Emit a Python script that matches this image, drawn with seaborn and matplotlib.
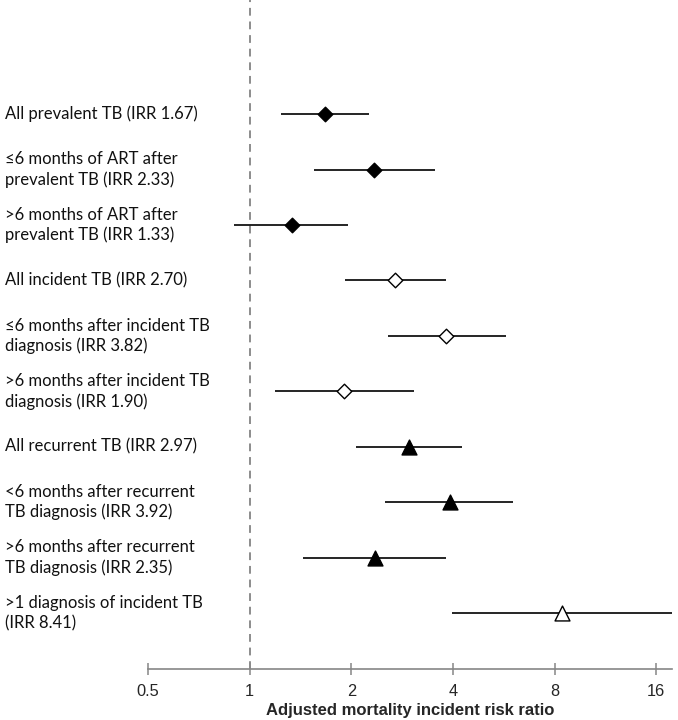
import matplotlib
matplotlib.use("Agg")
import matplotlib.pyplot as plt
import matplotlib.transforms as mtransforms
import seaborn as sns
import pandas as pd

labels = [
    "All prevalent TB (IRR 1.67)",
    "\u22646 months of ART after\nprevalent TB (IRR 2.33)",
    ">6 months of ART after\nprevalent TB (IRR 1.33)",
    "All incident TB (IRR 2.70)",
    "\u22646 months after incident TB\ndiagnosis (IRR 3.82)",
    ">6 months after incident TB\ndiagnosis (IRR 1.90)",
    "All recurrent TB (IRR 2.97)",
    "<6 months after recurrent\nTB diagnosis (IRR 3.92)",
    ">6 months after recurrent\nTB diagnosis (IRR 2.35)",
    ">1 diagnosis of incident TB\n(IRR 8.41)",
]
irr = [1.67, 2.33, 1.33, 2.70, 3.82, 1.90, 2.97, 3.92, 2.35, 8.41]
ci_low = [1.24, 1.55, 0.90, 1.92, 2.57, 1.19, 2.06, 2.51, 1.44, 3.96]
ci_high = [2.25, 3.54, 1.95, 3.82, 5.74, 3.06, 4.24, 6.03, 3.81, 17.8]
group = ["prevalent"] * 3 + ["incident"] * 3 + ["recurrent"] * 3 + ["multiple"]
xticks = [0.5, 1, 2, 4, 8, 16]

df = pd.DataFrame({"label": labels, "irr": irr, "lo": ci_low, "hi": ci_high, "group": group})
df["pos"] = list(range(len(df), 0, -1))

# marker, face colour, size per group
styles = {
    "prevalent": ("D", "black", 55),
    "incident": ("D", "white", 55),
    "recurrent": ("^", "black", 115),
    "multiple": ("^", "white", 115),
}

sns.set_theme(style="white")
fig = plt.figure(figsize=(6.78, 7.2), dpi=100)
ax = fig.add_axes([148 / 678, 51 / 720, (672 - 148) / 678, 669 / 720])

ax.set_xscale("log", base=2)
ax.set_xlim(0.5, 17.8)
ax.set_ylim(-0.01, 12.06)

ax.axvline(1, color="#8c8c8c", linestyle=(0, (4, 3)), linewidth=1.4, zorder=1)
ax.hlines(df["pos"], df["lo"], df["hi"], color="black", linewidth=1.2, zorder=2)

for g, (m, fc, s) in styles.items():
    sub = df[df["group"] == g]
    sns.scatterplot(data=sub, x="irr", y="pos", marker=m, s=s, color=fc,
                    edgecolor="black", linewidth=1.0, ax=ax, zorder=3, legend=False)

ax.set_xticks(xticks)
ax.set_xticklabels([str(t) for t in xticks], fontsize=11.8, family="Liberation Sans")
ax.set_yticks([])
ax.tick_params(axis="x", direction="inout", length=9, width=1.1, color="#868686",
               pad=6, bottom=True)
for side in ["top", "right", "left"]:
    ax.spines[side].set_visible(False)
ax.spines["bottom"].set_color("#868686")
ax.spines["bottom"].set_linewidth(1.2)
ax.set_xlabel("Adjusted mortality incident risk ratio", fontsize=12, fontweight="bold",
              family="Liberation Sans", labelpad=3)
ax.set_ylabel("")

trans = mtransforms.blended_transform_factory(fig.transFigure, ax.transData)
for lab, y in zip(df["label"], df["pos"]):
    ax.text(5 / 678, y, lab, transform=trans, ha="left", va="center", fontsize=12,
            family=["Lato", "DejaVu Sans"], color="#111111", linespacing=1.3, clip_on=False)

fig.savefig("out.png", dpi=100)
